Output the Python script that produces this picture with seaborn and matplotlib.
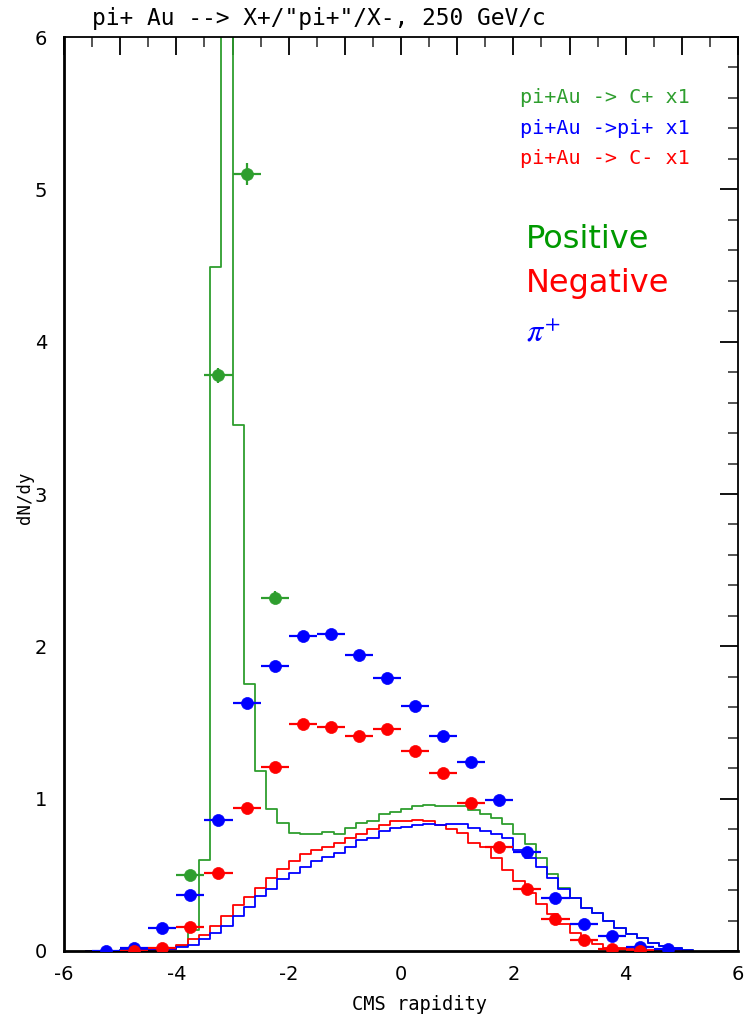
import numpy as np
import pandas as pd
import matplotlib
matplotlib.use("Agg")
import matplotlib.pyplot as plt
from matplotlib.ticker import MultipleLocator, FuncFormatter
import seaborn as sns

sns.set_style("white")
plt.rcParams["text.color"] = "black"
plt.rcParams["axes.labelcolor"] = "black"

# step histograms, bin width 0.2, edges from -5.6 to 5.2
bin_lo, bin_hi, n_bins = -5.6, 5.2, 54
bin_centers = np.round(np.linspace(bin_lo + 0.1, bin_hi - 0.1, n_bins), 2)

hist_pos = [0.0, 0.002, 0.003, 0.004, 0.006, 0.008, 0.010, 0.012, 0.03, 0.14,
            0.60, 4.49, 7.5, 3.45, 1.75, 1.18, 0.93, 0.84, 0.775, 0.765,
            0.765, 0.78, 0.77, 0.81, 0.84, 0.855, 0.90, 0.915, 0.935, 0.955,
            0.96, 0.955, 0.955, 0.95, 0.925, 0.90, 0.87, 0.835, 0.77, 0.70,
            0.61, 0.505, 0.415, 0.35, 0.28, 0.247, 0.195, 0.15, 0.113, 0.083,
            0.055, 0.033, 0.02, 0.005]
hist_pip = [0.0, 0.002, 0.003, 0.004, 0.006, 0.008, 0.010, 0.012, 0.024, 0.04,
            0.077, 0.12, 0.165, 0.23, 0.29, 0.36, 0.405, 0.47, 0.51, 0.55,
            0.59, 0.62, 0.645, 0.685, 0.73, 0.745, 0.79, 0.805, 0.815, 0.83,
            0.835, 0.83, 0.835, 0.835, 0.81, 0.79, 0.77, 0.74, 0.66, 0.61,
            0.55, 0.48, 0.405, 0.345, 0.28, 0.247, 0.195, 0.15, 0.113, 0.083,
            0.055, 0.033, 0.02, 0.005]
hist_neg = [0.0, 0.0, 0.0, 0.002, 0.004, 0.006, 0.009, 0.012, 0.04, 0.077,
            0.105, 0.165, 0.23, 0.30, 0.355, 0.415, 0.48, 0.54, 0.59, 0.635,
            0.66, 0.685, 0.71, 0.745, 0.77, 0.80, 0.83, 0.855, 0.855, 0.86,
            0.855, 0.83, 0.80, 0.775, 0.71, 0.68, 0.61, 0.53, 0.46, 0.38,
            0.31, 0.24, 0.175, 0.116, 0.072, 0.046, 0.022, 0.018, 0.01, 0.008,
            0.004, 0.0, 0.0, 0.0]

# measured points
pos_x = [-3.75, -3.25, -2.75, -2.25]
pos_y = [0.50, 3.78, 5.10, 2.32]
pos_err = [0.03, 0.05, 0.07, 0.04]

pip_x = [-5.25, -4.75, -4.25, -3.75, -3.25, -2.75, -2.25, -1.75, -1.25, -0.75, -0.25,
         0.25, 0.75, 1.25, 1.75, 2.25, 2.75, 3.25, 3.75, 4.25, 4.75]
pip_y = [0.0, 0.02, 0.15, 0.37, 0.86, 1.63, 1.87, 2.07, 2.08, 1.94, 1.79,
         1.61, 1.41, 1.24, 0.99, 0.65, 0.35, 0.18, 0.10, 0.025, 0.01]

neg_x = [-4.75, -4.25, -3.75, -3.25, -2.75, -2.25, -1.75, -1.25, -0.75, -0.25,
         0.25, 0.75, 1.25, 1.75, 2.25, 2.75, 3.25, 3.75, 4.25]
neg_y = [0.0, 0.02, 0.16, 0.51, 0.94, 1.21, 1.49, 1.47, 1.41, 1.46,
         1.31, 1.17, 0.97, 0.68, 0.41, 0.21, 0.07, 0.015, 0.0]

legend_lines = ["pi+Au -> C+ x1", "pi+Au ->pi+ x1", "pi+Au -> C- x1"]

GREEN = "#2e9e2e"
BLUE = "#0000ff"
RED = "#ff0000"

fig = plt.figure(figsize=(7.51, 10.15), dpi=100)
ax = fig.add_axes([64 / 751, 64 / 1015, 674 / 751, 914 / 1015])

for vals, col in [(hist_pos, GREEN), (hist_neg, RED), (hist_pip, BLUE)]:
    hdf = pd.DataFrame({"y": bin_centers, "w": vals})
    sns.histplot(data=hdf, x="y", weights="w", bins=n_bins,
                 binrange=(bin_lo, bin_hi), element="step",
                 fill=False, color=col, linewidth=1.3, ax=ax)

for xs, ys, col, err in [(pos_x, pos_y, GREEN, pos_err),
                         (pip_x, pip_y, BLUE, 0.03),
                         (neg_x, neg_y, RED, 0.03)]:
    ax.errorbar(xs, ys, xerr=0.25, yerr=err, fmt="none", ecolor=col,
                elinewidth=1.6, capsize=0, zorder=3)
    sns.scatterplot(x=xs, y=ys, color=col, s=75, edgecolor=col, linewidth=0.5,
                    zorder=4, ax=ax, legend=False)

ax.set_xlim(-6, 6)
ax.set_ylim(0, 6)
ax.xaxis.set_major_locator(MultipleLocator(1))
ax.xaxis.set_minor_locator(MultipleLocator(0.5))
ax.yaxis.set_major_locator(MultipleLocator(1))
ax.yaxis.set_minor_locator(MultipleLocator(0.2))
ax.xaxis.set_major_formatter(FuncFormatter(
    lambda v, p: f"{int(round(v))}" if int(round(v)) % 2 == 0 else ""))
ax.yaxis.set_major_formatter(FuncFormatter(lambda v, p: f"{int(round(v))}"))
ax.tick_params(which="major", direction="in", length=13, width=1.3,
               top=True, right=True, labelsize=14, colors="black",
               labelcolor="black")
ax.tick_params(axis="x", which="major", pad=10)
ax.tick_params(axis="y", which="major", pad=12)
ax.tick_params(which="minor", direction="in", length=7, width=1.1,
               top=True, right=True)
for side, spine in ax.spines.items():
    spine.set_color("black")
    spine.set_linewidth(2.0 if side in ("left", "bottom") else 1.3)

ax.set_xlabel("CMS rapidity", fontsize=13.5, family="DejaVu Sans Mono")
ax.set_ylabel("dN/dy", fontsize=12.5, family="DejaVu Sans Mono")
ax.xaxis.set_label_coords((419 - 64) / 674, -0.048)
ax.yaxis.set_label_coords((34 - 64) / 674, 0.496)

fig.text(92 / 751, 1 - 18 / 1015, 'pi+ Au --> X+/"pi+"/X-, 250 GeV/c',
         fontsize=16.5, family="DejaVu Sans Mono", va="center", ha="left",
         color="black")

for txt, col, yy in zip(legend_lines, [GREEN, BLUE, RED], [5.60, 5.40, 5.20]):
    ax.text(2.12, yy, txt, color=col, fontsize=14.5, family="DejaVu Sans Mono",
            va="center", ha="left")

ax.text(2.22, 4.67, "Positive", color="#009900", fontsize=23, va="center", ha="left")
ax.text(2.22, 4.38, "Negative", color=RED, fontsize=23, va="center", ha="left")
ax.text(2.22, 4.06, r"$\pi^{+}$", color=BLUE, fontsize=23, va="center", ha="left",
        math_fontfamily="stix")

fig.savefig("out.png", dpi=100)
